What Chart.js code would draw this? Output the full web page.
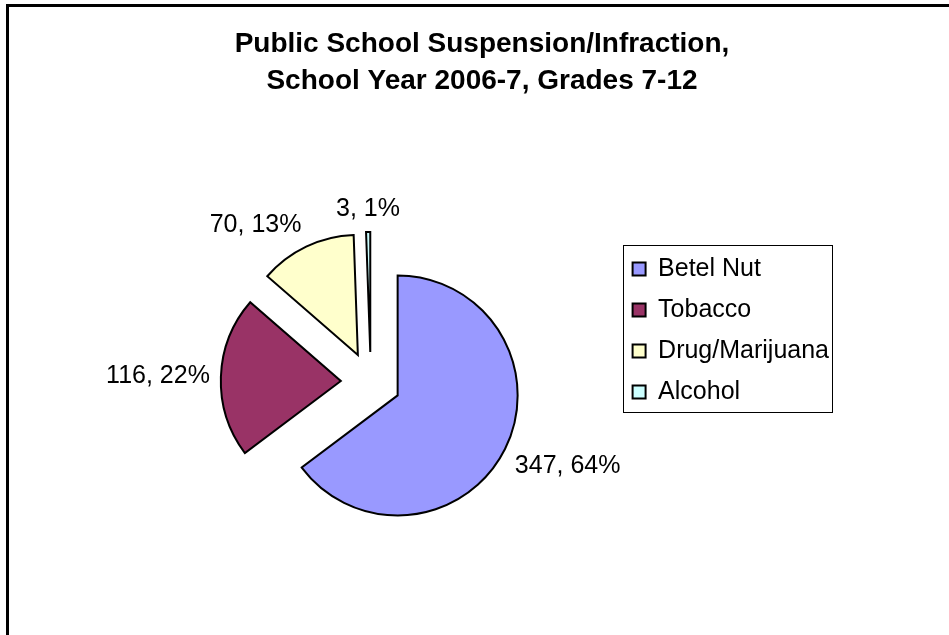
<!DOCTYPE html>
<html>
<head>
<meta charset="utf-8">
<title>Public School Suspension/Infraction</title>
<script src="https://cdn.jsdelivr.net/npm/chart.js@4"></script>
<style>
  body { margin: 0; background: #fff; }
  canvas { display: block; }
</style>
</head>
<body>
<canvas id="infraction-chart" width="949" height="635"></canvas>
<script>
// suspensions by infraction type, grades 7-12
const categories = ['Betel Nut', 'Tobacco', 'Drug/Marijuana', 'Alcohol'];
const counts = [347, 116, 70, 3];
const percents = [64, 22, 13, 1];
const sliceColors = ['#9999FF', '#993366', '#FFFFCC', '#CCFFFF'];

const FONT = 'Arial, "Liberation Sans", sans-serif';
const RADIUS = 120;    // pie radius, px
const EXPLODE = 30;    // distance every slice is pulled out
const LABEL_GAP = 11;

// chart.js moves an arc by offset/4 and also grows it a bit,
// put radius and angles back so every slice stays RADIUS wide
const keepRadius = {
    id: 'keepRadius',
    afterDatasetUpdate(chart, args) {
        args.meta.data.forEach(arc => {
            const fix = 1 - Math.sin(Math.min(Math.PI, arc.circumference));
            const grow = EXPLODE * fix;
            const widen = grow / (Math.PI * RADIUS) / 2;
            arc.outerRadius = RADIUS - grow;
            arc.startAngle -= widen;
            arc.endAngle += widen;
        });
    }
};

// "value, percent" labels just outside each slice
const sliceLabels = {
    id: 'sliceLabels',
    afterDatasetsDraw(chart) {
        const ctx = chart.ctx;
        const arcs = chart.getDatasetMeta(0).data;
        ctx.save();
        ctx.font = '25px ' + FONT;
        ctx.fillStyle = '#000';
        ctx.textBaseline = 'middle';
        arcs.forEach((arc, i) => {
            const mid = (arc.startAngle + arc.endAngle) / 2;
            const dx = Math.cos(mid);
            const dy = Math.sin(mid);
            const r = EXPLODE + RADIUS + LABEL_GAP;
            const px = arc.x + dx * r;
            const py = arc.y + dy * r;
            ctx.textAlign = Math.abs(dx) < 0.3 ? 'center' : (dx > 0 ? 'left' : 'right');
            const y = Math.abs(dy) < 0.3 ? py : py + Math.sign(dy) * 12;
            ctx.fillText(counts[i] + ', ' + percents[i] + '%', px, y);
        });
        ctx.restore();
    }
};

// outer frame line and the box round the legend
const frame = {
    id: 'frame',
    beforeDraw(chart) {
        const ctx = chart.ctx;
        ctx.save();
        ctx.strokeStyle = '#000';
        ctx.lineWidth = 3;
        ctx.beginPath();
        ctx.moveTo(7.5, chart.height);
        ctx.lineTo(7.5, 5.5);
        ctx.lineTo(chart.width, 5.5);
        ctx.stroke();
        ctx.restore();
    },
    afterDraw(chart) {
        const boxes = chart.legend.legendHitBoxes;
        if (!boxes || !boxes.length) return;
        const last = boxes[boxes.length - 1];
        const left = Math.round(boxes[0].left - 10);
        const top = Math.round(boxes[0].top - 11.5);
        const right = Math.round(Math.max(...boxes.map(b => b.left + b.width)) + 3);
        const bottom = Math.round(last.top + last.height + 7.5);
        const ctx = chart.ctx;
        ctx.save();
        ctx.strokeStyle = '#000';
        ctx.lineWidth = 1;
        ctx.strokeRect(left + 0.5, top + 0.5, right - left, bottom - top);
        ctx.restore();
    }
};

new Chart(document.getElementById('infraction-chart'), {
    type: 'pie',
    data: {
        labels: categories,
        datasets: [{
            data: counts,
            backgroundColor: sliceColors,
            borderColor: '#000',
            borderWidth: 2,
            borderJoinStyle: 'miter',
            offset: EXPLODE * 4
        }]
    },
    plugins: [frame, keepRadius, sliceLabels],
    options: {
        responsive: false,
        animation: false,
        radius: RADIUS,
        layout: {
            padding: { left: 125, right: 110, top: 0, bottom: 111.5 }
        },
        plugins: {
            title: {
                display: true,
                text: ['Public School Suspension/Infraction,', 'School Year 2006-7, Grades 7-12'],
                color: '#000',
                font: { family: FONT, size: 28, weight: 'bold', lineHeight: 1.32 },
                padding: { top: 26, bottom: 140.6 }
            },
            legend: {
                position: 'right',
                align: 'start',
                fullSize: false,
                labels: {
                    boxWidth: 13,
                    boxHeight: 13,
                    padding: 16,
                    color: '#000',
                    font: { family: FONT, size: 25 }
                }
            },
            tooltip: { enabled: false }
        }
    }
});
</script>
</body>
</html>
